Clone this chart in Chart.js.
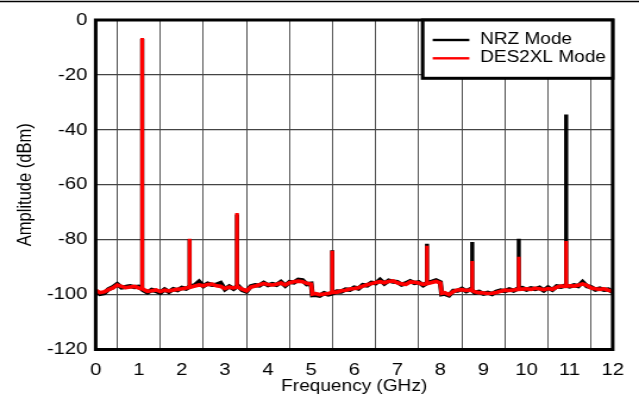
<!DOCTYPE html>
<html><head><meta charset="utf-8">
<script src="https://cdn.jsdelivr.net/npm/chart.js@4/dist/chart.umd.min.js"></script>
<style>
html,body{margin:0;padding:0;background:#fff;overflow:hidden;}
#wrap{width:639px;height:403px;overflow:hidden;}
canvas{display:block;transform:scaleX(1.18994);transform-origin:0 0;}
</style></head><body>
<div id="wrap"><canvas id="c" width="537" height="403"></canvas></div>
<script>
// Frequency grid (GHz)
const freqs = [0,0.1,0.2,0.3,0.4,0.5,0.6,0.7,0.8,0.9,1.0,1.1,1.2,1.3,1.4,1.5,1.6,1.7,1.8,1.9,
  2.0,2.1,2.2,2.3,2.4,2.5,2.6,2.7,2.8,2.9,3.0,3.1,3.2,3.3,3.4,3.5,3.6,3.7,3.8,3.9,
  4.0,4.1,4.2,4.3,4.4,4.5,4.6,4.7,4.8,4.9,5.0,5.03,5.1,5.2,5.3,5.4,5.5,5.6,5.7,5.8,5.9,
  6.0,6.1,6.2,6.3,6.4,6.5,6.6,6.7,6.8,6.9,7.0,7.1,7.2,7.3,7.4,7.5,7.6,7.7,7.8,7.9,
  8.0,8.03,8.1,8.2,8.3,8.4,8.5,8.6,8.7,8.8,8.9,9.0,9.1,9.2,9.3,9.4,9.5,9.6,9.7,9.8,9.9,
  10.0,10.1,10.2,10.3,10.4,10.5,10.6,10.7,10.8,10.9,11.0,11.1,11.2,11.3,11.4,11.5,11.6,11.7,11.8,11.9,12.0];

// Noise floor, NRZ Mode (dBm)
const nrzMode = [-98.6,-99.8,-99.5,-98.0,-97.3,-96.2,-97.4,-97.2,-96.9,-97.3,-97.1,-98.4,-99.2,-98.3,-98.7,-99.3,-98.1,-99.0,-98.0,-98.4,
  -97.5,-97.9,-97.0,-96.6,-95.3,-96.9,-96.0,-96.5,-96.4,-95.8,-98.1,-97.0,-97.9,-96.8,-98.3,-98.9,-97.0,-96.6,-96.7,-95.7,
  -96.6,-96.1,-96.5,-95.4,-96.8,-95.4,-95.6,-94.6,-94.8,-96.2,-96.0,-100.2,-100.1,-100.4,-99.5,-100.0,-99.5,-98.8,-98.9,-98.1,-98.3,
  -97.4,-97.8,-96.5,-96.7,-95.7,-95.9,-94.6,-96.0,-94.9,-95.3,-95.4,-96.4,-95.9,-95.1,-95.8,-95.5,-96.6,-95.7,-95.3,-94.8,
  -95.5,-99.9,-99.7,-100.3,-98.6,-98.6,-97.9,-98.8,-98.0,-99.3,-99.0,-99.7,-99.3,-99.8,-98.9,-98.5,-98.7,-98.1,-98.6,-97.8,-97.6,
  -98.2,-97.7,-98.0,-97.5,-98.5,-97.4,-98.3,-97.0,-97.2,-96.7,-97.1,-96.6,-96.9,-95.4,-96.9,-97.3,-98.2,-97.8,-98.3,-98.1,-99.1];

// Noise floor, DES2XL Mode (dBm)
const des2xlMode = [-98.4,-99.3,-99.0,-98.2,-97.6,-96.5,-97.0,-97.5,-97.2,-97.0,-97.6,-98.0,-98.8,-98.6,-98.3,-98.9,-98.4,-98.7,-98.3,-98.1,
  -97.9,-97.6,-97.3,-96.9,-96.5,-96.8,-96.3,-96.2,-96.8,-97.0,-97.8,-97.3,-97.6,-97.2,-98.0,-98.6,-97.3,-96.9,-96.4,-96.0,
  -96.3,-96.5,-96.2,-95.8,-96.5,-95.7,-95.3,-95.1,-95.3,-95.9,-96.2,-99.8,-99.6,-100.0,-99.8,-99.6,-99.2,-99.1,-98.6,-98.4,-98.0,
  -97.8,-97.5,-96.9,-96.4,-96.0,-95.6,-95.3,-95.7,-95.2,-95.0,-95.7,-96.1,-96.3,-95.4,-95.5,-95.8,-96.3,-96.0,-95.6,-95.2,
  -95.8,-99.5,-99.3,-100.0,-98.9,-98.3,-98.2,-98.5,-98.3,-99.0,-99.3,-99.4,-99.6,-99.5,-99.2,-98.8,-98.4,-98.5,-98.3,-98.1,-98.0,
  -97.9,-98.1,-97.7,-97.9,-98.2,-97.8,-98.1,-97.3,-96.9,-97.0,-96.8,-96.9,-96.6,-96.1,-96.6,-97.6,-97.9,-98.1,-97.9,-98.4,-98.8];

// Spurious tones
const spikeFreqs   = [1.08, 2.18, 3.28, 5.49, 7.69, 8.74, 9.82, 10.92];
const spikeBase    = [-98.0, -97.3, -97.2, -99.4, -96.0, -98.5, -98.1, -97.0];
const spikePeakNRZ = [-7.0, -80.0, -71.0, -84.0, -81.6, -81.0, -79.8, -34.5];
const spikePeakDES = [-6.7, -79.8, -70.4, -84.2, -82.3, -87.9, -86.3, -80.6];

const xTicks = [0,1,2,3,4,5,6,7,8,9,10,11,12];
const yTicks = [-120,-100,-80,-60,-40,-20,0];

const FONT = '"Liberation Sans", Arial, Helvetica, sans-serif';

const line = (vals) => freqs.map((f, i) => ({x: f, y: vals[i]}));
const bars = (peaks) => spikeFreqs.map((f, i) => ({x: f, y: [spikeBase[i], peaks[i]]}));

const framePlugin = {
  id: 'frame',
  beforeDraw(chart) {
    const ctx = chart.ctx;
    ctx.save();
    ctx.fillStyle = '#fff';
    ctx.fillRect(0, 0, chart.width, chart.height);
    ctx.strokeStyle = '#000';
    ctx.lineWidth = 1.5;
    ctx.beginPath(); ctx.moveTo(0, 1.5); ctx.lineTo(chart.width, 1.5); ctx.stroke();
    ctx.restore();
  },
  afterDraw(chart) {
    const ctx = chart.ctx, a = chart.chartArea;
    ctx.save();
    ctx.strokeStyle = '#000';
    ctx.lineWidth = 3;
    ctx.strokeRect(a.left, a.top, a.right - a.left, a.bottom - a.top);
    // legend box
    const lx = 355.2, ly = a.top, lw = a.right - lx, lh = 58.3;
    ctx.fillStyle = '#fff';
    ctx.fillRect(lx, ly, lw, lh);
    ctx.strokeRect(lx, ly, lw, lh);
    const ds = chart.data.datasets.filter(d => d.type === 'line');
    const rows = [40, 58.3];
    ds.forEach((d, i) => {
      ctx.strokeStyle = d.borderColor;
      ctx.lineWidth = 2.4;
      ctx.beginPath(); ctx.moveTo(363.6, rows[i]); ctx.lineTo(394.4, rows[i]); ctx.stroke();
      ctx.fillStyle = '#000';
      ctx.font = '16px ' + FONT;
      ctx.textAlign = 'left';
      ctx.textBaseline = 'middle';
      ctx.fillText(d.label, 403.4, rows[i] - 0.5);
    });
    ctx.restore();
  }
};

new Chart(document.getElementById('c'), {
  type: 'line',
  data: {
    datasets: [
      {type: 'line', label: 'NRZ Mode', data: line(nrzMode), borderColor: '#000', borderWidth: 4.2, pointRadius: 0, tension: 0, order: 4},
      {type: 'bar', label: 'NRZ tones', data: bars(spikePeakNRZ), backgroundColor: '#000', borderWidth: 0, barThickness: 2.8, grouped: false, borderSkipped: false, order: 3},
      {type: 'line', label: 'DES2XL Mode', data: line(des2xlMode), borderColor: '#ff0000', borderWidth: 3.6, pointRadius: 0, tension: 0, order: 2},
      {type: 'bar', label: 'DES2XL tones', data: bars(spikePeakDES), backgroundColor: '#ff0000', borderWidth: 0, barThickness: 2.5, grouped: false, borderSkipped: false, order: 1}
    ]
  },
  options: {
    responsive: false,
    animation: false,
    devicePixelRatio: 1,
    layout: {padding: {left: 0, top: 20, right: 22.1, bottom: 0}},
    plugins: {legend: {display: false}, tooltip: {enabled: false}},
    scales: {
      x: {
        type: 'linear', min: 0, max: 12, offset: false,
        afterFit(s) { s.height = 53.5; },
        afterBuildTicks(s) { s.ticks = xTicks.map(v => ({value: v})); },
        grid: {color: '#555', lineWidth: 1, drawTicks: false},
        border: {display: false},
        ticks: {color: '#000', font: {family: FONT, size: 17}, padding: 10.5, maxRotation: 0, autoSkip: false},
        title: {display: true, text: 'Frequency (GHz)', color: '#000', font: {family: FONT, size: 16}, padding: {top: 0, bottom: 6.4}}
      },
      y: {
        type: 'linear', min: -120, max: 0,
        afterFit(s) { s.width = 80.4; },
        afterBuildTicks(s) { s.ticks = yTicks.map(v => ({value: v})); },
        grid: {color: '#444', lineWidth: 1.2, drawTicks: false},
        border: {display: false},
        ticks: {color: '#000', font: {family: FONT, size: 17}, padding: 7},
        title: {display: true, text: 'Amplitude (dBm)', color: '#000', font: {family: FONT, size: 16.5}, padding: {top: 12, bottom: 0}}
      }
    }
  },
  plugins: [framePlugin]
});
</script>
</body></html>
